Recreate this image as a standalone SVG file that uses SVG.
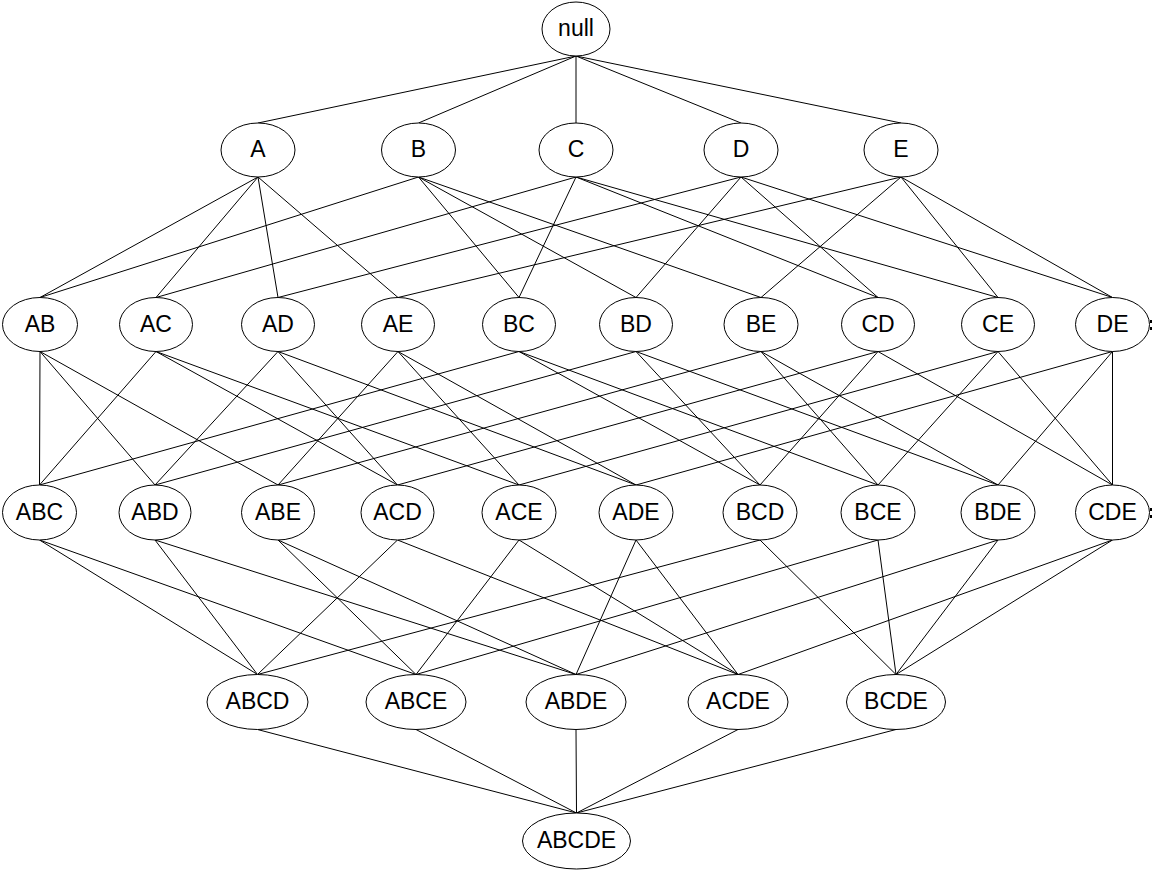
<svg xmlns="http://www.w3.org/2000/svg" width="1154" height="871" viewBox="0 0 1154 871">
<style>
.e{fill:#fff;stroke:#000;stroke-width:1}
.t{font-family:"Liberation Sans",Arial,sans-serif;font-size:23px;fill:#000;text-anchor:middle}
#connectors line{stroke:#000;stroke-width:1}
</style>
<rect width="1154" height="871" fill="#fff"/>
<g id="connectors">
<line x1="576" y1="56" x2="258" y2="123"/>
<line x1="576" y1="56" x2="418.5" y2="123"/>
<line x1="576" y1="56" x2="576" y2="123"/>
<line x1="576" y1="56" x2="741" y2="123"/>
<line x1="576" y1="56" x2="901" y2="123"/>

<line x1="258" y1="177" x2="40" y2="297.5"/>
<line x1="258" y1="177" x2="156" y2="297.5"/>
<line x1="258" y1="177" x2="278" y2="297.5"/>
<line x1="258" y1="177" x2="398" y2="297.5"/>
<line x1="418.5" y1="177" x2="40" y2="297.5"/>
<line x1="418.5" y1="177" x2="519" y2="297.5"/>
<line x1="418.5" y1="177" x2="636" y2="297.5"/>
<line x1="418.5" y1="177" x2="761" y2="297.5"/>
<line x1="576" y1="177" x2="156" y2="297.5"/>
<line x1="576" y1="177" x2="519" y2="297.5"/>
<line x1="576" y1="177" x2="878" y2="297.5"/>
<line x1="576" y1="177" x2="998" y2="297.5"/>
<line x1="741" y1="177" x2="278" y2="297.5"/>
<line x1="741" y1="177" x2="636" y2="297.5"/>
<line x1="741" y1="177" x2="878" y2="297.5"/>
<line x1="741" y1="177" x2="1112.5" y2="297.5"/>
<line x1="901" y1="177" x2="398" y2="297.5"/>
<line x1="901" y1="177" x2="761" y2="297.5"/>
<line x1="901" y1="177" x2="998" y2="297.5"/>
<line x1="901" y1="177" x2="1112.5" y2="297.5"/>

<line x1="40" y1="351.5" x2="39.5" y2="485"/>
<line x1="40" y1="351.5" x2="155" y2="485"/>
<line x1="40" y1="351.5" x2="278" y2="485"/>
<line x1="156" y1="351.5" x2="39.5" y2="485"/>
<line x1="156" y1="351.5" x2="397.5" y2="485"/>
<line x1="156" y1="351.5" x2="519" y2="485"/>
<line x1="278" y1="351.5" x2="155" y2="485"/>
<line x1="278" y1="351.5" x2="397.5" y2="485"/>
<line x1="278" y1="351.5" x2="636" y2="485"/>
<line x1="398" y1="351.5" x2="278" y2="485"/>
<line x1="398" y1="351.5" x2="519" y2="485"/>
<line x1="398" y1="351.5" x2="636" y2="485"/>
<line x1="519" y1="351.5" x2="39.5" y2="485"/>
<line x1="519" y1="351.5" x2="760" y2="485"/>
<line x1="519" y1="351.5" x2="878" y2="485"/>
<line x1="636" y1="351.5" x2="155" y2="485"/>
<line x1="636" y1="351.5" x2="760" y2="485"/>
<line x1="636" y1="351.5" x2="998" y2="485"/>
<line x1="761" y1="351.5" x2="278" y2="485"/>
<line x1="761" y1="351.5" x2="878" y2="485"/>
<line x1="761" y1="351.5" x2="998" y2="485"/>
<line x1="878" y1="351.5" x2="397.5" y2="485"/>
<line x1="878" y1="351.5" x2="760" y2="485"/>
<line x1="878" y1="351.5" x2="1112.5" y2="485"/>
<line x1="998" y1="351.5" x2="519" y2="485"/>
<line x1="998" y1="351.5" x2="878" y2="485"/>
<line x1="998" y1="351.5" x2="1112.5" y2="485"/>
<line x1="1112.5" y1="351.5" x2="636" y2="485"/>
<line x1="1112.5" y1="351.5" x2="998" y2="485"/>
<line x1="1112.5" y1="351.5" x2="1112.5" y2="485"/>

<line x1="39.5" y1="540" x2="257.5" y2="674.5"/>
<line x1="39.5" y1="540" x2="416" y2="674.5"/>
<line x1="155" y1="540" x2="257.5" y2="674.5"/>
<line x1="155" y1="540" x2="576" y2="674.5"/>
<line x1="278" y1="540" x2="416" y2="674.5"/>
<line x1="278" y1="540" x2="576" y2="674.5"/>
<line x1="397.5" y1="540" x2="257.5" y2="674.5"/>
<line x1="397.5" y1="540" x2="738" y2="674.5"/>
<line x1="519" y1="540" x2="416" y2="674.5"/>
<line x1="519" y1="540" x2="738" y2="674.5"/>
<line x1="636" y1="540" x2="576" y2="674.5"/>
<line x1="636" y1="540" x2="738" y2="674.5"/>
<line x1="760" y1="540" x2="257.5" y2="674.5"/>
<line x1="760" y1="540" x2="896" y2="674.5"/>
<line x1="878" y1="540" x2="416" y2="674.5"/>
<line x1="878" y1="540" x2="896" y2="674.5"/>
<line x1="998" y1="540" x2="576" y2="674.5"/>
<line x1="998" y1="540" x2="896" y2="674.5"/>
<line x1="1112.5" y1="540" x2="738" y2="674.5"/>
<line x1="1112.5" y1="540" x2="896" y2="674.5"/>

<line x1="257.5" y1="729.5" x2="576.5" y2="813"/>
<line x1="416" y1="729.5" x2="576.5" y2="813"/>
<line x1="576" y1="729.5" x2="576.5" y2="813"/>
<line x1="738" y1="729.5" x2="576.5" y2="813"/>
<line x1="896" y1="729.5" x2="576.5" y2="813"/>
</g>

<g id="n-null"><ellipse class="e" cx="576" cy="29" rx="34" ry="27"/><text class="t" x="576" y="36">null</text></g>

<g id="n-A"><ellipse class="e" cx="258" cy="150" rx="37" ry="27"/><text class="t" x="258" y="157">A</text></g>
<g id="n-B"><ellipse class="e" cx="418.5" cy="150" rx="37" ry="27"/><text class="t" x="418.5" y="157">B</text></g>
<g id="n-C"><ellipse class="e" cx="576" cy="150" rx="37" ry="27"/><text class="t" x="576" y="157">C</text></g>
<g id="n-D"><ellipse class="e" cx="741" cy="150" rx="37" ry="27"/><text class="t" x="741" y="157">D</text></g>
<g id="n-E"><ellipse class="e" cx="901" cy="150" rx="37" ry="27"/><text class="t" x="901" y="157">E</text></g>

<g id="n-AB"><ellipse class="e" cx="40" cy="324.5" rx="37.5" ry="27"/><text class="t" x="40" y="331.5">AB</text></g>
<g id="n-AC"><ellipse class="e" cx="156" cy="324.5" rx="36.5" ry="27"/><text class="t" x="156" y="331.5">AC</text></g>
<g id="n-AD"><ellipse class="e" cx="278" cy="324.5" rx="36.5" ry="27"/><text class="t" x="278" y="331.5">AD</text></g>
<g id="n-AE"><ellipse class="e" cx="398" cy="324.5" rx="36.5" ry="27"/><text class="t" x="398" y="331.5">AE</text></g>
<g id="n-BC"><ellipse class="e" cx="519" cy="324.5" rx="36.5" ry="27"/><text class="t" x="519" y="331.5">BC</text></g>
<g id="n-BD"><ellipse class="e" cx="636" cy="324.5" rx="36.5" ry="27"/><text class="t" x="636" y="331.5">BD</text></g>
<g id="n-BE"><ellipse class="e" cx="761" cy="324.5" rx="37" ry="27"/><text class="t" x="761" y="331.5">BE</text></g>
<g id="n-CD"><ellipse class="e" cx="878" cy="324.5" rx="36.5" ry="27"/><text class="t" x="878" y="331.5">CD</text></g>
<g id="n-CE"><ellipse class="e" cx="998" cy="324.5" rx="36.5" ry="27"/><text class="t" x="998" y="331.5">CE</text></g>
<g id="n-DE"><ellipse class="e" cx="1112.5" cy="324.5" rx="37" ry="27"/><text class="t" x="1112.5" y="331.5">DE</text></g>

<g id="n-ABC"><ellipse class="e" cx="39.5" cy="512.5" rx="37" ry="27.5"/><text class="t" x="39.5" y="519.5">ABC</text></g>
<g id="n-ABD"><ellipse class="e" cx="155" cy="512.5" rx="36" ry="27.5"/><text class="t" x="155" y="519.5">ABD</text></g>
<g id="n-ABE"><ellipse class="e" cx="278" cy="512.5" rx="36.5" ry="27.5"/><text class="t" x="278" y="519.5">ABE</text></g>
<g id="n-ACD"><ellipse class="e" cx="397.5" cy="512.5" rx="36.5" ry="27.5"/><text class="t" x="397.5" y="519.5">ACD</text></g>
<g id="n-ACE"><ellipse class="e" cx="519" cy="512.5" rx="37" ry="27.5"/><text class="t" x="519" y="519.5">ACE</text></g>
<g id="n-ADE"><ellipse class="e" cx="636" cy="512.5" rx="37" ry="27.5"/><text class="t" x="636" y="519.5">ADE</text></g>
<g id="n-BCD"><ellipse class="e" cx="760" cy="512.5" rx="37" ry="27.5"/><text class="t" x="760" y="519.5">BCD</text></g>
<g id="n-BCE"><ellipse class="e" cx="878" cy="512.5" rx="37" ry="27.5"/><text class="t" x="878" y="519.5">BCE</text></g>
<g id="n-BDE"><ellipse class="e" cx="998" cy="512.5" rx="37" ry="27.5"/><text class="t" x="998" y="519.5">BDE</text></g>
<g id="n-CDE"><ellipse class="e" cx="1112.5" cy="512.5" rx="37" ry="27.5"/><text class="t" x="1112.5" y="519.5">CDE</text></g>

<g id="n-ABCD"><ellipse class="e" cx="257.5" cy="702" rx="50.5" ry="27.5"/><text class="t" x="257.5" y="709">ABCD</text></g>
<g id="n-ABCE"><ellipse class="e" cx="416" cy="702" rx="50" ry="27.5"/><text class="t" x="416" y="709">ABCE</text></g>
<g id="n-ABDE"><ellipse class="e" cx="576" cy="702" rx="50" ry="27.5"/><text class="t" x="576" y="709">ABDE</text></g>
<g id="n-ACDE"><ellipse class="e" cx="738" cy="702" rx="50" ry="27.5"/><text class="t" x="738" y="709">ACDE</text></g>
<g id="n-BCDE"><ellipse class="e" cx="896" cy="702" rx="49.5" ry="27.5"/><text class="t" x="896" y="709">BCDE</text></g>

<g id="n-ABCDE"><ellipse class="e" cx="576.5" cy="841" rx="54" ry="28"/><text class="t" x="576.5" y="848">ABCDE</text></g>

<g id="marks" fill="#000">
<rect x="1150" y="320" width="2" height="3"/><rect x="1150" y="327" width="2" height="3"/>
<rect x="1150" y="508" width="2" height="3"/><rect x="1150" y="515" width="2" height="3"/>
</g>
</svg>
